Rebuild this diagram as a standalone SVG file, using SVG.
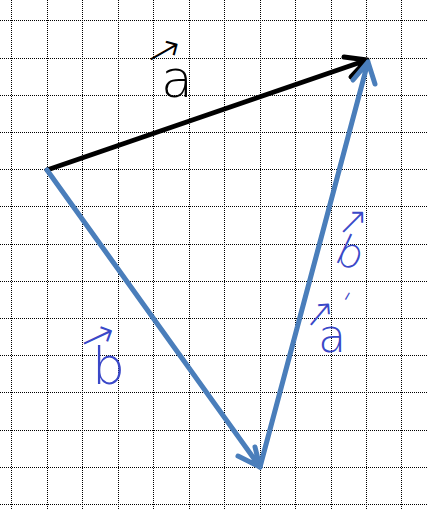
<svg xmlns="http://www.w3.org/2000/svg" width="428" height="509" viewBox="0 0 428 509">
<style>
.grid line{stroke:#000;stroke-width:1;stroke-dasharray:1 1;shape-rendering:crispEdges}
.vec{fill:none;stroke-width:5;stroke-linecap:round;stroke-linejoin:round}
.hw{font-family:"DejaVu Sans",sans-serif;font-weight:200}
.blue{fill:#3a48c8}
</style>
<rect width="428" height="509" fill="#fff"/>
<g class="grid">
<line x1="11.5" y1="0" x2="11.5" y2="509"/>
<line x1="47.5" y1="0" x2="47.5" y2="509"/>
<line x1="82.5" y1="0" x2="82.5" y2="509"/>
<line x1="118.5" y1="0" x2="118.5" y2="509"/>
<line x1="153.5" y1="0" x2="153.5" y2="509"/>
<line x1="189.5" y1="0" x2="189.5" y2="509"/>
<line x1="224.5" y1="0" x2="224.5" y2="509"/>
<line x1="260.5" y1="0" x2="260.5" y2="509"/>
<line x1="295.5" y1="0" x2="295.5" y2="509"/>
<line x1="331.5" y1="0" x2="331.5" y2="509"/>
<line x1="366.5" y1="0" x2="366.5" y2="509"/>
<line x1="401.5" y1="0" x2="401.5" y2="509"/>
<line x1="0" y1="20.5" x2="428" y2="20.5"/>
<line x1="0" y1="58.5" x2="428" y2="58.5"/>
<line x1="0" y1="95.5" x2="428" y2="95.5"/>
<line x1="0" y1="132.5" x2="428" y2="132.5"/>
<line x1="0" y1="169.5" x2="428" y2="169.5"/>
<line x1="0" y1="206.5" x2="428" y2="206.5"/>
<line x1="0" y1="244.5" x2="428" y2="244.5"/>
<line x1="0" y1="281.5" x2="428" y2="281.5"/>
<line x1="0" y1="318.5" x2="428" y2="318.5"/>
<line x1="0" y1="355.5" x2="428" y2="355.5"/>
<line x1="0" y1="392.5" x2="428" y2="392.5"/>
<line x1="0" y1="430.5" x2="428" y2="430.5"/>
<line x1="0" y1="467.5" x2="428" y2="467.5"/>
<line x1="0" y1="504.5" x2="428" y2="504.5"/>
</g>
<g id="connectors">
<g id="vec-a">
<path class="vec" stroke="#000" d="M47 170 L367 60 M344 57 L367 60 L351 77"/>
</g>
<g id="vec-b">
<path class="vec" stroke="#4a7ebb" d="M47 170 L260 467 M238 456 L260 467 L255 447"/>
</g>
<g id="vec-a-minus-b">
<path class="vec" stroke="#4a7ebb" d="M260 467 L368 62 M353 80 L368 62 L375 84"/>
</g>
</g>
<g id="label-a">
<text class="hw" x="146" y="66" font-size="42" transform="rotate(-30 162 52)">→</text>
<text class="hw" x="161" y="97" font-size="52">a</text>
</g>
<g id="label-b-left">
<text class="hw blue" x="80" y="350" font-size="42" transform="rotate(-25 98 337)">→</text>
<text class="hw blue" x="92" y="384" font-size="52">b</text>
</g>
<g id="label-b-right">
<text class="hw blue" x="336" y="236" font-size="38" transform="rotate(-45 350 222)">→</text>
<text class="hw blue" x="338" y="268" font-size="42" transform="rotate(25 352 252)">b</text>
</g>
<g id="label-minus">
<text class="hw blue" x="343" y="302" font-size="30" transform="rotate(-60 350 296)">-</text>
</g>
<g id="label-a-right">
<text class="hw blue" x="302" y="327" font-size="38" transform="rotate(-50 318 313)">→</text>
<text class="hw blue" x="318" y="352" font-size="46">a</text>
</g>
</svg>
